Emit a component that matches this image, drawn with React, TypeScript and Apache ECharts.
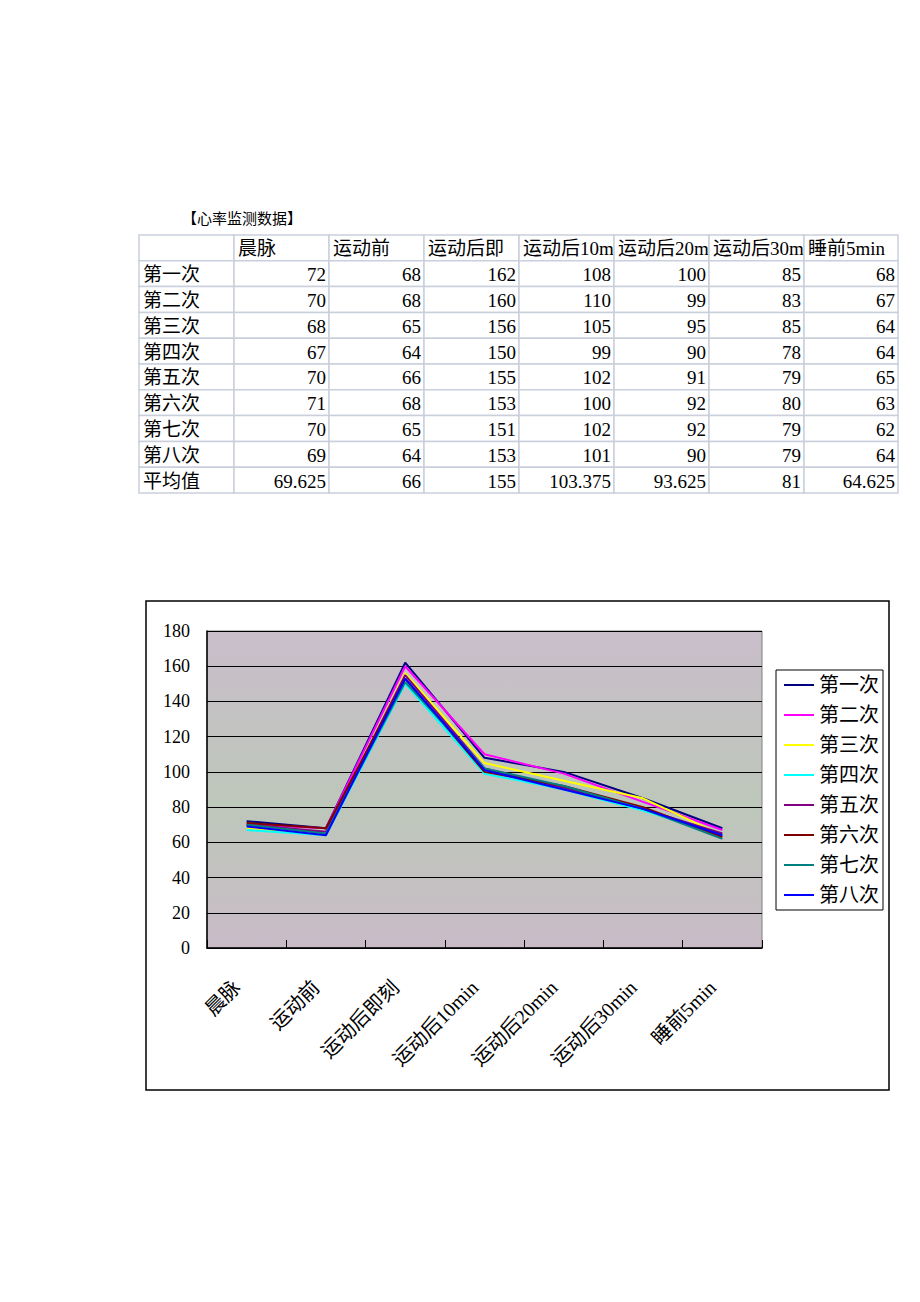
import React, { useEffect, useRef } from "react";
import * as echarts from "echarts";

const tableTitle = "【心率监测数据】";
const categories = ["晨脉", "运动前", "运动后即刻", "运动后10min", "运动后20min", "运动后30min", "睡前5min"];
const runNames = ["第一次", "第二次", "第三次", "第四次", "第五次", "第六次", "第七次", "第八次"];
const run1 = [72, 68, 162, 108, 100, 85, 68];
const run2 = [70, 68, 160, 110, 99, 83, 67];
const run3 = [68, 65, 156, 105, 95, 85, 64];
const run4 = [67, 64, 150, 99, 90, 78, 64];
const run5 = [70, 66, 155, 102, 91, 79, 65];
const run6 = [71, 68, 153, 100, 92, 80, 63];
const run7 = [70, 65, 151, 102, 92, 79, 62];
const run8 = [69, 64, 153, 101, 90, 79, 64];
const averageLabel = "平均值";
const averageValues = [69.625, 66, 155, 103.375, 93.625, 81, 64.625];
const runValues = [run1, run2, run3, run4, run5, run6, run7, run8];
const seriesColors = ["#000080", "#FF00FF", "#FFFF00", "#00FFFF", "#800080", "#800000", "#008080", "#0000FF"];
const yMin = 0;
const yMax = 180;
const yStep = 20;

const FONT = "'Liberation Serif', 'Noto Sans CJK SC', serif";

function buildTable(): any[] {
  const els: any[] = [];
  const left = 139;
  const top = 235;
  const colW = 95;
  const rowH = 25.8;
  const nCols = categories.length + 1;
  const rows: (string | number)[][] = [];
  rows.push(["", ...categories]);
  runNames.forEach((n, i) => rows.push([n, ...runValues[i]]));
  rows.push([averageLabel, ...averageValues]);

  els.push({
    type: "text",
    x: 182,
    y: 219,
    style: { text: tableTitle, fontSize: 15, fontFamily: FONT, fill: "#000", verticalAlign: "middle", align: "left" },
  });

  rows.forEach((row, r) => {
    const y = top + r * rowH;
    row.forEach((cell, c) => {
      const x = left + c * colW;
      const w = c === nCols - 1 ? 94 : colW;
      els.push({
        type: "rect",
        shape: { x, y, width: w, height: rowH },
        style: { fill: "#fff", stroke: "#c9d0dc", lineWidth: 1.5 },
      });
      if (cell === "") return;
      const isNum = typeof cell === "number";
      els.push({
        type: "text",
        x: isNum ? x + w - 3 : x + 4,
        y: y + rowH / 2 + 1,
        style: {
          text: String(cell),
          fontSize: 19,
          fontFamily: FONT,
          fill: "#000",
          align: isNum ? "right" : "left",
          verticalAlign: "middle",
          width: w - 1,
          overflow: "truncate",
          ellipsis: "",
        },
      });
    });
  });
  return els;
}

export default function App() {
  const ref = useRef<HTMLDivElement>(null);
  useEffect(() => {
    if (!ref.current) return;
    const chart = echarts.init(ref.current, undefined, { renderer: "svg" });
    const option: any = {
      animation: false,
      backgroundColor: "#fff",
      textStyle: { fontFamily: FONT },
      grid: {
        left: 207,
        top: 631,
        width: 555,
        height: 317,
        show: true,
        backgroundColor: new echarts.graphic.LinearGradient(0, 0, 0, 1, [
          { offset: 0, color: "#c9bdca" },
          { offset: 0.55, color: "#bdc7ba" },
          { offset: 1, color: "#c9bbc7" },
        ]),
        borderColor: "#808080",
        borderWidth: 1,
      },
      legend: {
        orient: "vertical",
        left: 776,
        top: 670,
        data: runNames,
        icon: "rect",
        itemWidth: 30,
        itemHeight: 2,
        itemGap: 10,
        padding: [5, 4, 5, 8],
        borderColor: "#000",
        borderWidth: 1,
        backgroundColor: "#fff",
        textStyle: { fontSize: 20, lineHeight: 20, fontFamily: FONT, color: "#000" },
      },
      xAxis: {
        type: "category",
        data: categories,
        boundaryGap: true,
        axisLine: { show: true, lineStyle: { color: "#000", width: 1.5 } },
        axisTick: { show: true, inside: true, length: 8, lineStyle: { color: "#000" } },
        axisLabel: {
          rotate: 45,
          interval: 0,
          margin: 26,
          padding: [0, 14, 0, 0],
          fontSize: 20,
          fontFamily: FONT,
          color: "#000",
        },
      },
      yAxis: {
        type: "value",
        min: yMin,
        max: yMax,
        interval: yStep,
        axisLine: { show: true, lineStyle: { color: "#000", width: 1.5 } },
        axisTick: { show: false },
        axisLabel: { margin: 17, fontSize: 18, fontFamily: FONT, color: "#000" },
        splitLine: { show: true, lineStyle: { color: "#000", width: 1.2 } },
      },
      series: runNames.map((name, i) => ({
        name,
        type: "line",
        data: runValues[i],
        symbol: "none",
        color: seriesColors[i],
        lineStyle: { color: seriesColors[i], width: 2 },
      })),
      graphic: [
        {
          type: "rect",
          z: -10,
          shape: { x: 146, y: 601, width: 743, height: 489 },
          style: { fill: "none", stroke: "#000", lineWidth: 1.5 },
        },
        ...buildTable(),
      ],
    };
    chart.setOption(option);
    return () => chart.dispose();
  }, []);
  return <div ref={ref} style={{ position: "absolute", left: 0, top: 0, width: 920, height: 1302 }} />;
}
